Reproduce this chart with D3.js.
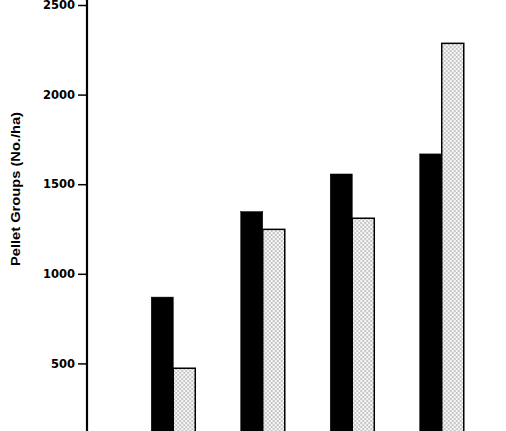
<html>
<head>
  <script src="https://cdnjs.cloudflare.com/ajax/libs/d3/7.8.5/d3.min.js"></script>
  <style>
    body { margin: 0; background: #fff; }
    svg { display: block; }
  </style>
</head>
<body>
<script>
  // groups along the x axis (labels fall below the visible crop)
  const groups = ["1", "2", "3", "4"];
  const series = ["solid", "stippled"];
  const solidVals = [870, 1347, 1557, 1669];
  const stippledVals = [473, 1248, 1310, 2286];
  const yTicks = [500, 1000, 1500, 2000, 2500];

  const w = 506, h = 431;

  const svg = d3.select("body").append("svg")
    .attr("width", w)
    .attr("height", h);

  const defs = svg.append("defs");
  const pat = defs.append("pattern")
    .attr("id", "stipple")
    .attr("patternUnits", "userSpaceOnUse")
    .attr("width", 4)
    .attr("height", 4);
  pat.append("rect").attr("width", 4).attr("height", 4).attr("fill", "#f7f7f7");
  pat.append("circle").attr("cx", 1).attr("cy", 1).attr("r", 0.75).attr("fill", "#808080");
  pat.append("circle").attr("cx", 3).attr("cy", 3).attr("r", 0.75).attr("fill", "#808080");

  const yScale = d3.scaleLinear()
    .domain([0, 2500])
    .range([453, 5]);

  const xScale = d3.scaleBand()
    .domain(groups)
    .range([128.5, 128.5 + 4 * 89.5])
    .paddingInner(0.508)
    .paddingOuter(0.254);

  const xSub = d3.scaleBand()
    .domain(series)
    .range([0, xScale.bandwidth()]);

  const rows = groups.map((g, i) => ({ g: g, solid: solidVals[i], stippled: stippledVals[i] }));

  const gGroups = svg.selectAll("g.grp")
    .data(rows)
    .enter()
    .append("g")
    .attr("class", "grp")
    .attr("transform", d => "translate(" + xScale(d.g) + ",0)");

  gGroups.selectAll("rect")
    .data(d => series.map(s => ({ s: s, v: d[s] })))
    .enter()
    .append("rect")
    .attr("x", d => xSub(d.s))
    .attr("y", d => yScale(d.v))
    .attr("width", xSub.bandwidth())
    .attr("height", d => yScale(0) - yScale(d.v))
    .attr("fill", d => d.s === "solid" ? "#000" : "url(#stipple)")
    .attr("stroke", "#000")
    .attr("stroke-width", d => d.s === "solid" ? 0.5 : 1.5);

  // y axis
  const yAxis = d3.axisLeft(yScale)
    .tickValues(yTicks)
    .tickSize(9)
    .tickPadding(3)
    .tickFormat(d3.format("d"));

  const ax = svg.append("g")
    .attr("transform", "translate(87,0)")
    .call(yAxis);

  ax.select(".domain").remove();
  ax.selectAll(".tick line").attr("stroke", "#000").attr("stroke-width", 1.5);
  ax.selectAll(".tick text")
    .attr("fill", "#000")
    .style("font-family", "'DejaVu Sans', sans-serif")
    .style("font-weight", "bold")
    .style("font-size", "11.5px");

  svg.append("line")
    .attr("x1", 87).attr("x2", 87)
    .attr("y1", 0).attr("y2", h)
    .attr("stroke", "#000")
    .attr("stroke-width", 2.2);

  svg.append("text")
    .attr("transform", "translate(20,189) rotate(-90)")
    .attr("text-anchor", "middle")
    .attr("textLength", 154)
    .attr("lengthAdjust", "spacingAndGlyphs")
    .style("font-family", "'Liberation Sans', Arial, sans-serif")
    .style("font-weight", "bold")
    .style("font-size", "12px")
    .text("Pellet Groups (No./ha)");
</script>
</body>
</html>
